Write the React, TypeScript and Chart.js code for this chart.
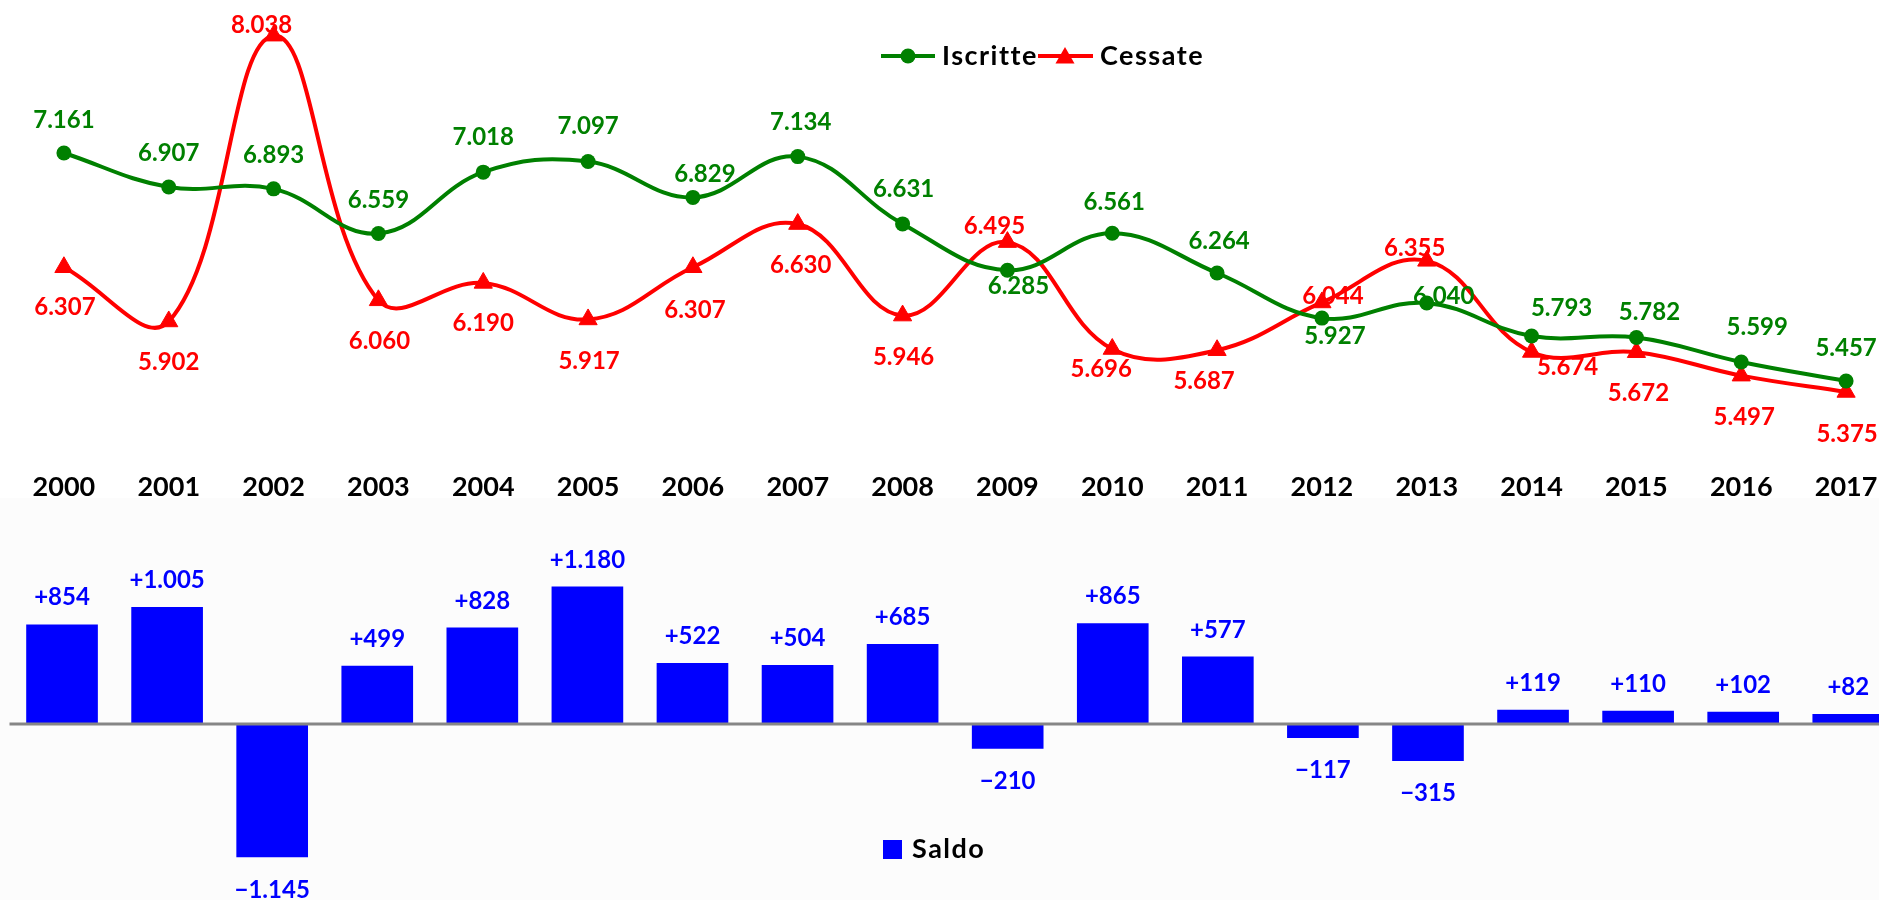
import React, { useEffect, useRef } from "react";
import { Chart, registerables } from "chart.js";

Chart.register(...registerables);

// ---------- DATA ----------
const years = ["2000","2001","2002","2003","2004","2005","2006","2007","2008","2009","2010","2011","2012","2013","2014","2015","2016","2017"];
const iscritte = [7161, 6907, 6893, 6559, 7018, 7097, 6829, 7134, 6631, 6285, 6561, 6264, 5927, 6040, 5793, 5782, 5599, 5457];
const cessate = [6307, 5902, 8038, 6060, 6190, 5917, 6307, 6630, 5946, 6495, 5696, 5687, 6044, 6355, 5674, 5672, 5497, 5375];
const saldo = [854, 1005, -1145, 499, 828, 1180, 522, 504, 685, -210, 865, 577, -117, -315, 119, 110, 102, 82];

// label placement (offset of the label centre from its point, px)
const iscritteLabelOffsets: [number, number][] = [
  [0,-33],[0,-34],[0,-34],[0,-33],[0,-35],[0,-35],[12,-23],[3,-34],[1,-35],
  [11,16],[2,-31],[2,-32],[13,18],[17,-7],[30,-28],[13,-25],[16,-35],[0,-33],
];
const cessateLabelOffsets: [number, number][] = [
  [1,40],[0,41],[-12,-10],[1,41],[0,40],[1,42],[2,43],[3,41],[1,42],
  [-13,-16],[-11,20],[-13,31],[11,-6],[-12,-13],[36,15],[2,41],[3,42],[1,42],
];

const GREEN = "#008000";
const RED = "#ff0000";
const BLUE = "#0000ff";
const FONT = "Lato, 'Open Sans', sans-serif";

const CANVAS_W = 1910;
const TOP_H = 503;
const BOTTOM_TOP = 498;
const BOTTOM_H = 402;

// vertical mapping of the line chart: reference value at pixel row, px per unit
const LINE_REF_VALUE = 7161;
const LINE_REF_PIXEL = 153;
const LINE_PX_PER_UNIT = 0.1338;

function fmt(v: number): string {
  return Math.abs(v).toString().replace(/\B(?=(\d{3})+(?!\d))/g, ".");
}

function drawTriangle(ctx: CanvasRenderingContext2D, x: number, y: number, r: number) {
  ctx.beginPath();
  for (let k = 0; k < 3; k++) {
    const a = -Math.PI / 2 + (k * 2 * Math.PI) / 3;
    const px = x + r * Math.cos(a);
    const py = y + r * Math.sin(a);
    if (k === 0) ctx.moveTo(px, py);
    else ctx.lineTo(px, py);
  }
  ctx.closePath();
  ctx.fill();
}

const lineLabelsPlugin = {
  id: "lineLabels",
  afterDatasetsDraw(chart: any) {
    const ctx: CanvasRenderingContext2D = chart.ctx;
    ctx.save();
    ctx.font = `bold 24px ${FONT}`;
    ctx.textAlign = "center";
    ctx.textBaseline = "middle";
    const sets = [
      { data: iscritte, offs: iscritteLabelOffsets, color: GREEN },
      { data: cessate, offs: cessateLabelOffsets, color: RED },
    ];
    sets.forEach((s, di) => {
      const meta = chart.getDatasetMeta(di);
      ctx.fillStyle = s.color;
      meta.data.forEach((pt: any, i: number) => {
        const [dx, dy] = s.offs[i];
        ctx.fillText(fmt(s.data[i]), pt.x + dx, pt.y + dy);
      });
    });
    ctx.restore();
  },
  afterDraw(chart: any) {
    // legend Iscritte / Cessate
    const ctx: CanvasRenderingContext2D = chart.ctx;
    ctx.save();
    const y = 56;
    ctx.lineWidth = 4;
    ctx.strokeStyle = GREEN;
    ctx.fillStyle = GREEN;
    ctx.beginPath();
    ctx.moveTo(881, y);
    ctx.lineTo(935, y);
    ctx.stroke();
    ctx.beginPath();
    ctx.arc(908, y, 7.5, 0, Math.PI * 2);
    ctx.fill();
    ctx.strokeStyle = RED;
    ctx.fillStyle = RED;
    ctx.beginPath();
    ctx.moveTo(1038, y);
    ctx.lineTo(1093, y);
    ctx.stroke();
    drawTriangle(ctx, 1065, y + 2, 11);
    ctx.fillStyle = "#000";
    ctx.font = `bold 27px ${FONT}`;
    (ctx as any).letterSpacing = "1.5px";
    ctx.textAlign = "left";
    ctx.textBaseline = "middle";
    ctx.fillText("Iscritte", 942, y);
    ctx.fillText("Cessate", 1100, y);
    ctx.restore();
  },
};

const barLabelsPlugin = {
  id: "barLabels",
  afterDatasetsDraw(chart: any) {
    const ctx: CanvasRenderingContext2D = chart.ctx;
    const yScale = chart.scales.y;
    const area = chart.chartArea;
    ctx.save();
    // zero line
    const y0 = yScale.getPixelForValue(0);
    ctx.strokeStyle = "#868686";
    ctx.lineWidth = 3;
    ctx.beginPath();
    ctx.moveTo(area.left, y0);
    ctx.lineTo(chart.width, y0);
    ctx.stroke();
    // value labels
    ctx.font = `bold 24px ${FONT}`;
    ctx.textAlign = "center";
    ctx.textBaseline = "middle";
    ctx.fillStyle = BLUE;
    const meta = chart.getDatasetMeta(0);
    meta.data.forEach((bar: any, i: number) => {
      const v = saldo[i];
      const txt = (v >= 0 ? "+" : "\u2212") + fmt(v);
      ctx.fillText(txt, bar.x, v >= 0 ? bar.y - 27 : bar.y + 33);
    });
    // legend Saldo
    ctx.fillStyle = BLUE;
    ctx.fillRect(883, 342, 19, 19);
    ctx.fillStyle = "#000";
    ctx.font = `bold 27px ${FONT}`;
    (ctx as any).letterSpacing = "1.5px";
    ctx.textAlign = "left";
    ctx.fillText("Saldo", 912, 351);
    ctx.restore();
  },
};

export default function App() {
  const topRef = useRef<HTMLCanvasElement>(null);
  const botRef = useRef<HTMLCanvasElement>(null);

  useEffect(() => {
    const topChart: any = new Chart(topRef.current as HTMLCanvasElement, {
      type: "line",
      data: {
        labels: years,
        datasets: [
          {
            label: "Iscritte",
            data: iscritte,
            borderColor: GREEN,
            backgroundColor: GREEN,
            borderWidth: 4,
            tension: 0.4,
            pointStyle: "circle",
            pointRadius: 7.5,
            pointBorderWidth: 0,
            pointBackgroundColor: GREEN,
            fill: false,
          },
          {
            label: "Cessate",
            data: cessate,
            borderColor: RED,
            backgroundColor: RED,
            borderWidth: 4,
            tension: 0.4,
            pointStyle: "triangle",
            pointRadius: 10.5,
            pointBorderWidth: 1,
            pointBorderColor: RED,
            pointBackgroundColor: RED,
            fill: false,
          },
        ],
      },
      options: {
        responsive: false,
        animation: false,
        layout: { padding: { left: 9.5, right: 9.2, top: 0, bottom: 0 } },
        plugins: { legend: { display: false }, tooltip: { enabled: false } },
        scales: {
          x: {
            offset: true,
            grid: { display: false, drawTicks: false },
            border: { display: false },
            ticks: {
              color: "#000",
              padding: 0,
              autoSkip: false,
              maxRotation: 0,
              font: { family: FONT, weight: "bold", size: 27 },
            },
          },
          y: { display: false, min: 4782, max: 8307 },
        },
      },
      plugins: [lineLabelsPlugin],
    } as any);

    // fit the value range to the chart area so that the vertical mapping matches
    const area = topChart.chartArea;
    const valueAt = (px: number) => LINE_REF_VALUE - (px - LINE_REF_PIXEL) / LINE_PX_PER_UNIT;
    topChart.options.scales.y.min = valueAt(area.bottom);
    topChart.options.scales.y.max = valueAt(area.top);
    topChart.update();

    const botChart = new Chart(botRef.current as HTMLCanvasElement, {
      type: "bar",
      data: {
        labels: years,
        datasets: [
          {
            label: "Saldo",
            data: saldo,
            backgroundColor: BLUE,
            borderWidth: 0,
            barThickness: 71,
          },
        ],
      },
      options: {
        responsive: false,
        animation: false,
        layout: { padding: { left: 9.5, right: 9.2, top: 0, bottom: 0 } },
        plugins: { legend: { display: false }, tooltip: { enabled: false } },
        scales: {
          x: { display: false, offset: true },
          y: { display: false, min: -1515, max: 1945 },
        },
      },
      plugins: [barLabelsPlugin],
    } as any);

    return () => {
      topChart.destroy();
      botChart.destroy();
    };
  }, []);

  return (
    <div
      style={{
        position: "fixed",
        left: 0,
        top: 0,
        width: 1879,
        height: 900,
        overflow: "hidden",
        background: "#ffffff",
      }}
    >
      <canvas
        ref={topRef}
        width={CANVAS_W}
        height={TOP_H}
        style={{ position: "absolute", left: 0, top: 0, width: CANVAS_W, height: TOP_H }}
      />
      <canvas
        ref={botRef}
        width={CANVAS_W}
        height={BOTTOM_H}
        style={{
          position: "absolute",
          left: 0,
          top: BOTTOM_TOP,
          width: CANVAS_W,
          height: BOTTOM_H,
          background: "#fcfcfc",
        }}
      />
    </div>
  );
}
